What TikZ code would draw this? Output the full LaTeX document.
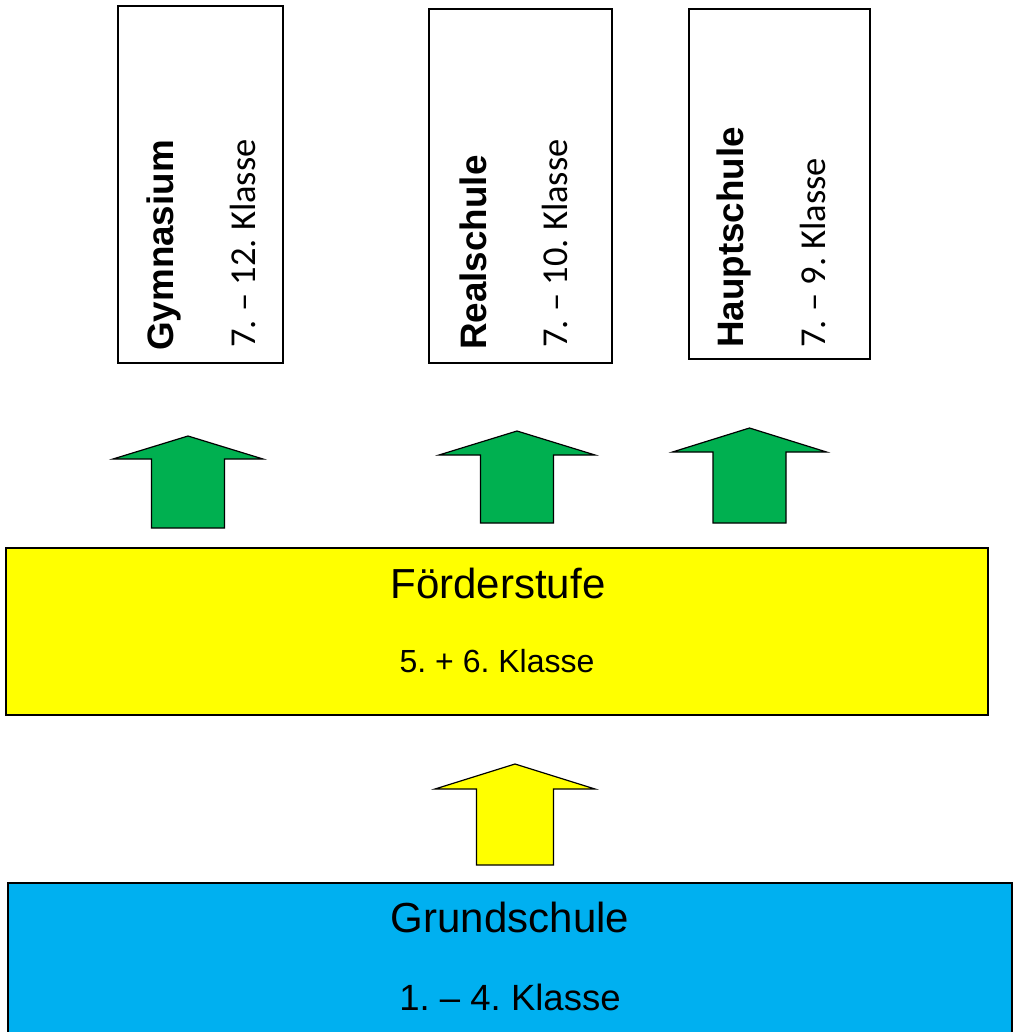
\documentclass[tikz,border=0pt]{standalone}
\usepackage{fontspec}
\setmainfont{Liberation Sans}
\newfontfamily\calibrifont{Carlito}
\definecolor{arrowgreen}{HTML}{00B050}
\definecolor{stufeyellow}{HTML}{FFFF00}
\definecolor{grundblue}{HTML}{00B0F0}
\frenchspacing
% #1 centre x, #2 tip y, #3 wing y, #4 bottom y, #5 head half width, #6 shaft half width, #7 fill
\newcommand\schoolarrow[7]{%
  \draw[line width=1.2pt, line join=miter, fill=#7]
    (#1,#2) -- (#1+#5,#3) -- (#1+#6,#3) -- (#1+#6,#4) -- (#1-#6,#4)
    -- (#1-#6,#3) -- (#1-#5,#3) -- cycle;}
\begin{document}
\begin{tikzpicture}[x=1pt,y=-1pt,
  schoolbox/.style={draw=black, line width=1.2pt, fill=white, inner sep=0pt},
  widebox/.style={draw=black, line width=1.2pt, inner sep=0pt},
  vtitle/.style={rotate=90, anchor=west, inner sep=0pt, font=\bfseries\fontsize{36.8}{40}\selectfont},
  vsub/.style={rotate=90, anchor=west, inner sep=0pt, font=\calibrifont\fontsize{36.5}{40}\selectfont},
  htitle/.style={anchor=base, inner sep=0pt, font=\fontsize{42}{48}\selectfont},
  hsub/.style={anchor=base, inner sep=0pt}]
\useasboundingbox (0,0) rectangle (1018,1032);
\clip (0,0) rectangle (1018,1032);
\fill[white] (0,0) rectangle (1018,1032);

% top school boxes
\node[schoolbox, minimum width=165pt, minimum height=357pt] (gym) at (200.5,184.5) {};
\node[schoolbox, minimum width=183pt, minimum height=354pt] (real) at (520.5,186) {};
\node[schoolbox, minimum width=181pt, minimum height=350pt] (haupt) at (779.5,184) {};

\node[vtitle] (gymT) at (164,351) {Gymnasium};
\node[vsub] (gymS) at (243,348) {7. – 12. Klasse};
\node[vtitle] (realT) at (473,350) {Realschule};
\node[vsub] (realS) at (555,348) {7. – 10. Klasse};
\node[vtitle] (hauptT) at (734,348) {Hauptschule};
\node[vsub] (hauptS) at (813,348) {7. – 9. Klasse};

% green arrows
\schoolarrow{188}{436}{459}{528}{75}{36.5}{arrowgreen}
\schoolarrow{517}{431}{455}{523}{78}{36.5}{arrowgreen}
\schoolarrow{749.5}{428}{452}{523}{77}{36.5}{arrowgreen}

% Foerderstufe
\node[widebox, fill=stufeyellow, minimum width=982pt, minimum height=167pt] (foerder) at (497,631.5) {};
\node[htitle] (foerderT) at (498,598) {Förderstufe};
\node[hsub, font=\fontsize{32}{38}\selectfont] (foerderS) at (497,672) {5. + 6. Klasse};

% yellow arrow
\schoolarrow{515}{764}{789}{865}{80}{38.5}{stufeyellow}

% Grundschule
\node[widebox, fill=grundblue, minimum width=1004pt, minimum height=170pt] (grund) at (510,968) {};
\node[htitle] (grundT) at (510,932) {Grundschule};
\node[hsub, font=\fontsize{36.5}{42}\selectfont] (grundS) at (510,1010) {1. – 4. Klasse};
\end{tikzpicture}
\end{document}
